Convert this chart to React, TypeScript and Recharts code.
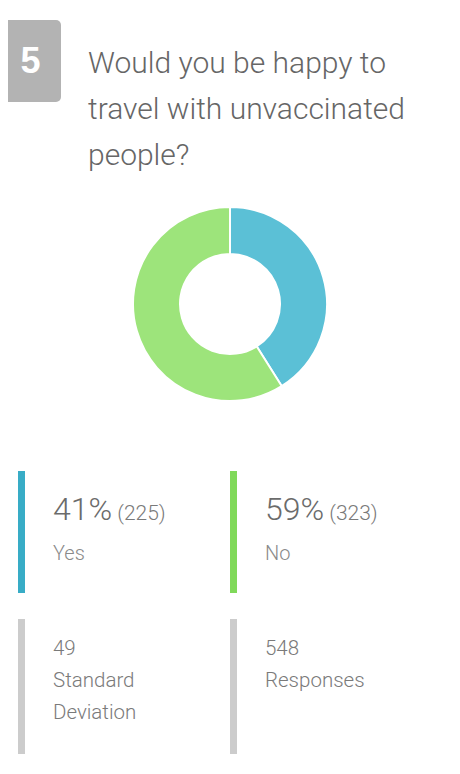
import { PieChart, Pie, Cell } from "recharts";

const questionNumber = "5";
const questionLines = ["Would you be happy to", "travel with unvaccinated", "people?"];

const answerLabels = ["Yes", "No"];
const answerCounts = [225, 323];
const answerPercents = [41, 59];
const sliceColors = ["#5bc0d6", "#9de47b"];
const barColors = ["#38acc6", "#80d95a"];

const stdDeviation = 49;
const totalResponses = 548;

const pieData = answerLabels.map((name, i) => ({ name, value: answerCounts[i] }));

const font = "Roboto, 'Noto Sans', sans-serif";

function StatBlock({
  left,
  top,
  height,
  color,
  children,
}: {
  left: number;
  top: number;
  height: number;
  color: string;
  children: React.ReactNode;
}) {
  return (
    <div style={{ position: "absolute", left, top, height, width: 200 }}>
      <div
        style={{
          position: "absolute",
          left: 0,
          top: 0,
          width: 7,
          height,
          background: color,
        }}
      />
      <div style={{ position: "absolute", left: 35, top: 0 }}>{children}</div>
    </div>
  );
}

export default function App() {
  return (
    <div
      style={{
        position: "relative",
        width: 460,
        height: 774,
        margin: -8,
        background: "#ffffff",
        fontFamily: font,
        overflow: "hidden",
      }}
    >
      {/* question number badge */}
      <div
        style={{
          position: "absolute",
          left: 0,
          top: 20,
          width: 61,
          height: 82,
          background: "#b3b3b3",
          borderRadius: "0 5px 5px 0",
          color: "#ffffff",
          fontSize: 36,
          fontWeight: 700,
          fontFamily: "'Liberation Sans', Arial, sans-serif",
          display: "flex",
          alignItems: "center",
          justifyContent: "center",
        }}
      >
        {questionNumber}
      </div>

      {/* question text */}
      <div
        style={{
          position: "absolute",
          left: 88,
          top: 40,
          fontSize: 30,
          fontWeight: 300,
          lineHeight: "46px",
          color: "#666666",
          whiteSpace: "nowrap",
        }}
      >
        {questionLines.map((l) => (
          <div key={l}>{l}</div>
        ))}
      </div>

      {/* donut */}
      <div style={{ position: "absolute", left: 120, top: 194 }}>
        <PieChart width={220} height={220} margin={{ top: 0, right: 0, bottom: 0, left: 0 }}>
          <Pie
            data={pieData}
            dataKey="value"
            nameKey="name"
            cx={110}
            cy={110}
            innerRadius={50}
            outerRadius={97}
            startAngle={90}
            endAngle={-270}
            stroke="#ffffff"
            strokeWidth={2}
            isAnimationActive={false}
          >
            {pieData.map((d, i) => (
              <Cell key={d.name} fill={sliceColors[i]} />
            ))}
          </Pie>
        </PieChart>
      </div>

      {/* answer breakdown */}
      {answerLabels.map((label, i) => (
        <StatBlock key={label} left={18 + i * 212} top={471} height={122} color={barColors[i]}>
          <div style={{ marginTop: 18, whiteSpace: "nowrap", color: "#6b6b6b", lineHeight: "40px" }}>
            <span style={{ fontSize: 32, fontWeight: 300 }}>{answerPercents[i]}%</span>
            <span style={{ fontSize: 21, fontWeight: 300, marginLeft: 5, color: "#7a7a7a" }}>
              ({answerCounts[i]})
            </span>
          </div>
          <div style={{ fontSize: 20, fontWeight: 300, color: "#8a8a8a", marginTop: 6 }}>{label}</div>
        </StatBlock>
      ))}

      {/* summary stats */}
      <StatBlock left={18} top={619} height={135} color="#cccccc">
        <div style={{ marginTop: 13, fontSize: 20.5, fontWeight: 300, lineHeight: "32px", color: "#7a7a7a" }}>
          <div>{stdDeviation}</div>
          <div>Standard</div>
          <div>Deviation</div>
        </div>
      </StatBlock>
      <StatBlock left={230} top={619} height={135} color="#cccccc">
        <div style={{ marginTop: 13, fontSize: 20.5, fontWeight: 300, lineHeight: "32px", color: "#7a7a7a" }}>
          <div>{totalResponses}</div>
          <div>Responses</div>
        </div>
      </StatBlock>
    </div>
  );
}
